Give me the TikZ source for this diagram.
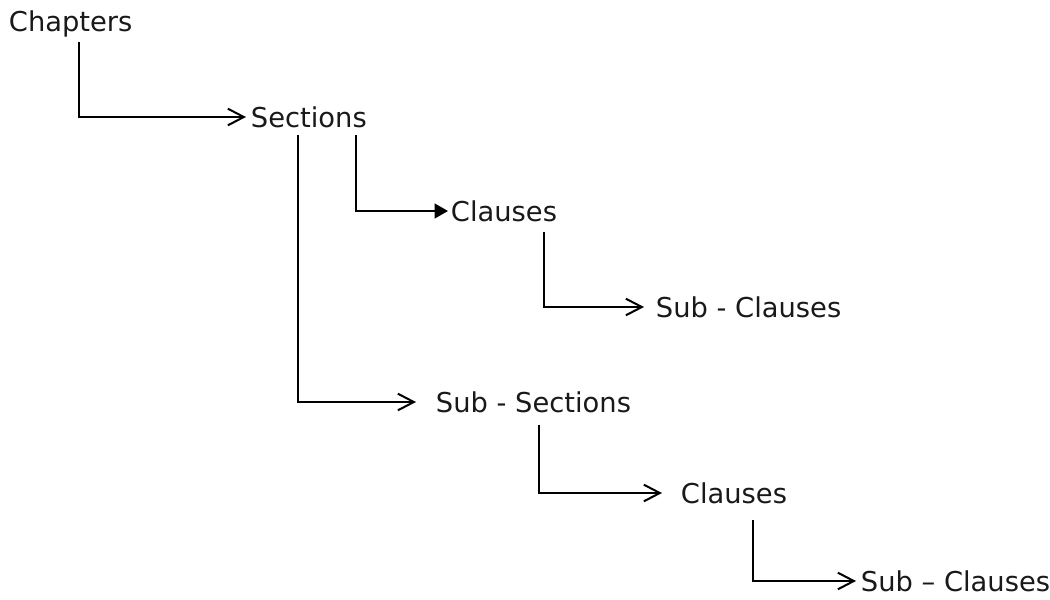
\documentclass[tikz,border=0pt]{standalone}
\usepackage{fontspec}
\setmainfont{DejaVu Sans}
\usetikzlibrary{arrows.meta}
\begin{document}
\begin{tikzpicture}[x=0.75pt,y=-0.75pt,
  lbl/.style={font=\fontsize{20.5}{24}\selectfont, inner sep=2pt, anchor=west, text=black!90},
  conn/.style={draw=black, line width=1.6pt, -{Straight Barb[length=12pt,width=12.5pt,line width=1.5pt]}},
  connf/.style={draw=black, line width=1.6pt, -{Triangle[length=10pt,width=11pt]}}]
\useasboundingbox (0,0) rectangle (1050,600);
\node[lbl] (chap) at (6,24) {Chapters};
\node[lbl] (sect) at (248,117) {Sections};
\node[lbl] (cl1) at (448,211) {Clauses};
\node[lbl] (sc1) at (653,307) {Sub - Clauses};
\node[lbl] (ss) at (433,402) {Sub - Sections};
\node[lbl] (cl2) at (678,493) {Clauses};
\node[lbl] (sc2) at (858,581) {Sub – Clauses};
\coordinate (a1) at (79,42);
\coordinate (a2) at (298,135);
\coordinate (a3) at (356,135);
\coordinate (a4) at (544,232);
\coordinate (a5) at (539,425);
\coordinate (a6) at (753,520);
\coordinate (t1) at (246,117);
\coordinate (t2) at (416,402);
\coordinate (t3) at (448,211);
\coordinate (t4) at (644,307);
\coordinate (t5) at (662,493);
\coordinate (t6) at (856,581);
\draw[conn] (a1) |- (t1);
\draw[conn] (a2) |- (t2);
\draw[connf] (a3) |- (t3);
\draw[conn] (a4) |- (t4);
\draw[conn] (a5) |- (t5);
\draw[conn] (a6) |- (t6);
\end{tikzpicture}
\end{document}
